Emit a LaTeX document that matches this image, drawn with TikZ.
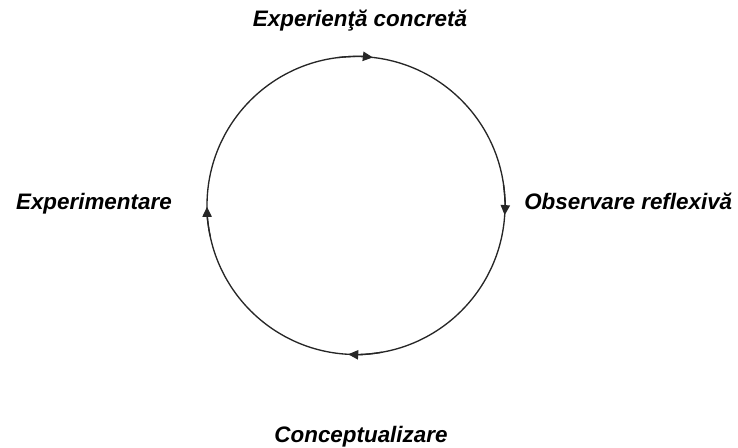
\documentclass[tikz,border=0pt]{standalone}
\usepackage{fontspec}
\setmainfont{Liberation Sans}
\usetikzlibrary{arrows.meta}
\begin{document}
\begin{tikzpicture}[x=0.75pt,y=0.75pt,
  lbl/.style={font=\fontsize{16.8pt}{19pt}\selectfont\bfseries\itshape, inner sep=0pt},
  cyc/.style={line width=1pt, draw=black!85},
  tip/.style={cyc, -{Triangle[length=7.5pt,width=7pt]}}]
\useasboundingbox (0,0) rectangle (738,448);
\coordinate (c) at (356,242.5);
\node[circle, cyc, minimum size=298*0.75pt, inner sep=0pt, outer sep=0pt] (ring) at (c) {};
\node[lbl, anchor=base] (top) at (360,421) {Experienţă concretă};
\node[lbl, anchor=base west] (right) at (524,238) {Observare reflexivă};
\node[lbl, anchor=base east] (left) at (172,238) {Experimentare};
\node[lbl, anchor=base] (bottom) at (361,5) {Conceptualizare};
\draw[tip] (ring.97) arc[start angle=97, end angle=83.5, radius=149];
\draw[tip] (ring.8) arc[start angle=8, end angle=-3.7, radius=149];
\draw[tip] (ring.-80) arc[start angle=-80, end angle=-93, radius=149];
\draw[tip] (ring.192) arc[start angle=192, end angle=180.5, radius=149];
\end{tikzpicture}
\end{document}
